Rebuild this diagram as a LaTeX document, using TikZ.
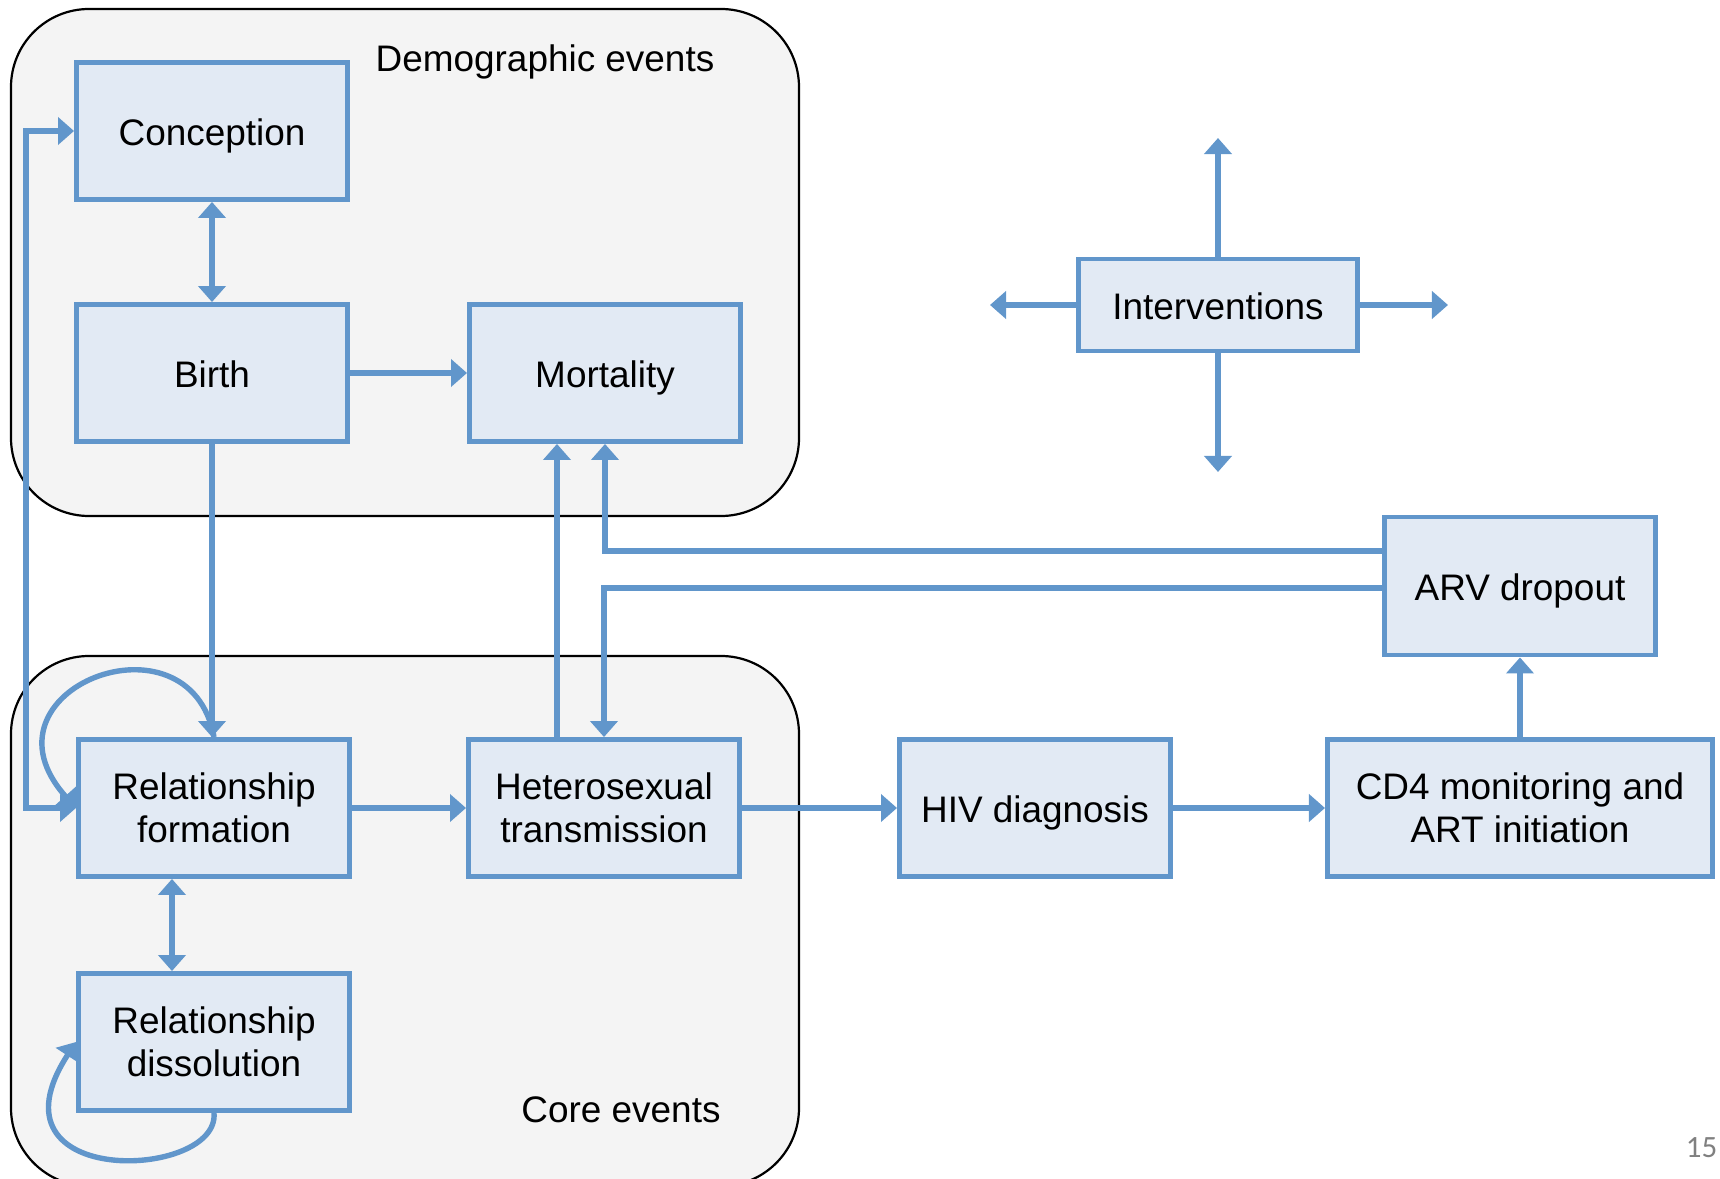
\documentclass[tikz,border=0pt]{standalone}
\usepackage{fontspec}
\setmainfont{Liberation Sans}
\newfontfamily\slidefont{Carlito}
\usetikzlibrary{arrows.meta}

\definecolor{eventblue}{RGB}{97,150,203}
\definecolor{eventfill}{RGB}{226,234,244}
\definecolor{groupfill}{RGB}{244,244,244}

\tikzset{
    >={Triangle[width=0.27cm,length=0.16cm]},
    event/.style={draw=eventblue, fill=eventfill, line width=0.048cm,
        minimum width=2.71cm, minimum height=1.37cm, align=center,
        font=\fontsize{10.5}{12.2}\selectfont},
    oneline/.style={text height=0.37cm, text depth=0.09cm},
    flow/.style={eventblue, line width=0.054cm, ->},
    group/.style={draw=black, fill=groupfill, line width=0.022cm, rounded corners=0.78cm},
    grouplabel/.style={anchor=base, font=\fontsize{10.5}{12.2}\selectfont}
}

\begin{document}
\begin{tikzpicture}[x=0.01cm, y=-0.01cm]
\useasboundingbox (0,0) rectangle (1720,1179);
% draw groups
    \draw[group] (11,9) rectangle (799,516);
    \draw[group] (11,656) rectangle (799,1186);
    \node[grouplabel] (demolabel) at (545,72) {Demographic events};
    \node[grouplabel] (corelabel) at (621,1122) {Core events};
    %draw events
    \node[event, oneline] (conc) at (212,131) {Conception};
    \node[event, oneline] (birth) at (212,373) {Birth};
    \node[event, oneline] (mort) at (605,373) {Mortality};
    \node[event, oneline, minimum width=2.79cm, minimum height=0.92cm] (intv) at (1218,305) {Interventions};
    \node[event, oneline, minimum height=1.38cm] (arv) at (1520,586) {ARV dropout};
    \node[event] (relf) at (214,808) {Relationship\\formation};
    \node[event] (het) at (604,808) {Heterosexual\\transmission};
    \node[event, oneline] (hiv) at (1035,808) {HIV diagnosis};
    \node[event, minimum width=3.85cm] (cd4) at (1520,808) {CD4 monitoring and\\ART initiation};
    \node[event] (reld) at (214,1042) {Relationship\\dissolution};
    %interventions point outwards
    \coordinate (intvup) at (1218,138);
    \coordinate (intvdown) at (1218,472);
    \coordinate (intvleft) at (990,305);
    \coordinate (intvright) at (1448,305);
    \draw[flow] (intv.north) -- (intvup);
    \draw[flow] (intv.south) -- (intvdown);
    \draw[flow] (intv.west) -- (intvleft);
    \draw[flow] (intv.east) -- (intvright);
    %draw flows
    \draw[flow, <->] (conc.south) -- (birth.north);
    \draw[flow] (birth.east) -- (mort.west);
    \draw[flow] (birth.south) -- (birth.south |- relf.north);
    \draw[flow, <->] (relf.west) -- ++(-50,0) |- (conc.west);
    \draw[flow] (relf.north) .. controls (190,605) and (-30,690) .. (relf.west);
    \draw[flow, <->] ([xshift=-0.42cm]relf.south) -- ([xshift=-0.42cm]reld.north);
    \draw[flow] (reld.south) .. controls (220,1180) and (-20,1190) .. (reld.west);
    \draw[flow] (relf.east) -- (het.west);
    \draw[flow] ([xshift=-0.47cm]het.north) -- ([xshift=-0.47cm]het.north |- mort.south);
    \draw[flow] (het.east) -- (hiv.west);
    \draw[flow] (hiv.east) -- (cd4.west);
    \draw[flow] (cd4.north) -- (arv.south);
    \draw[flow] ([yshift=0.35cm]arv.west) -| (mort.south);
    \draw[flow] ([yshift=-0.02cm]arv.west) -| (het.north);
    \node[anchor=base east, inner sep=0pt, text=gray, font=\slidefont\fontsize{8.8}{10}\selectfont] (pagenum) at (1718,1157) {15};
\end{tikzpicture}
\end{document}
